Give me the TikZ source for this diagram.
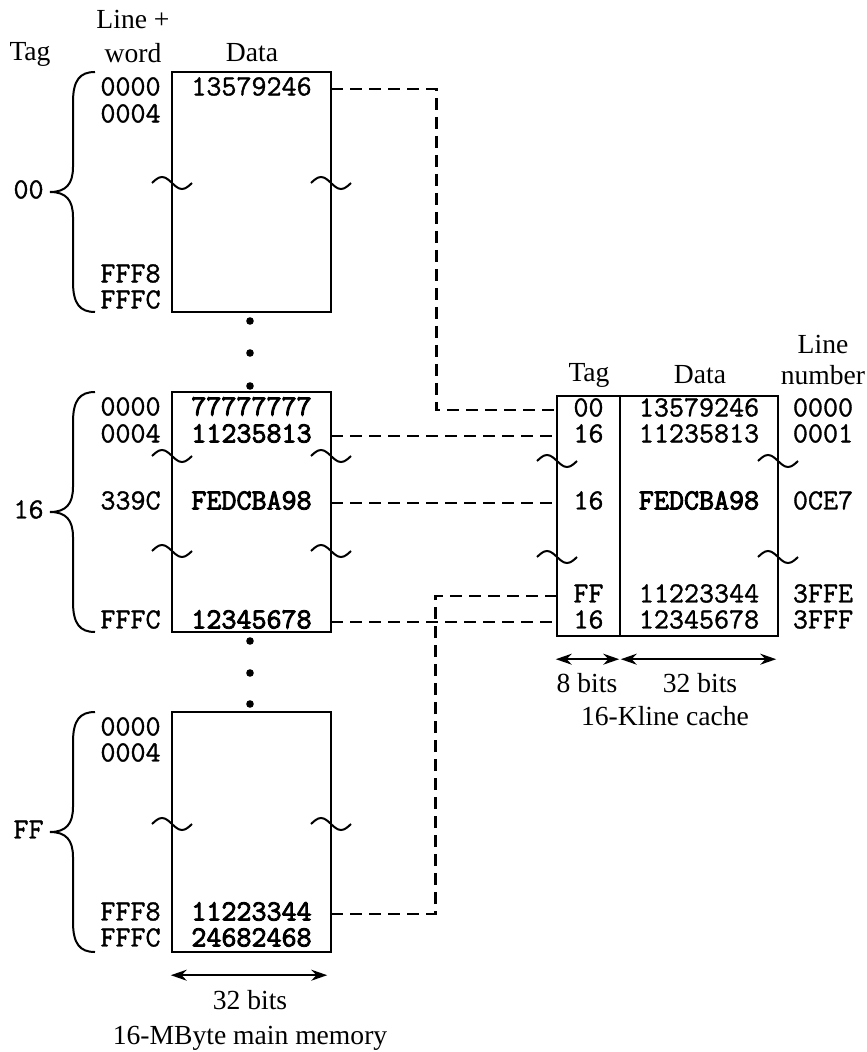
\documentclass[tikz,border=0pt]{standalone}
\usepackage{fontspec}
\setmainfont{Liberation Serif}
\newfontfamily\codefont{Latin Modern Mono}[FakeBold=1.2]
\newfontfamily\codebold{Latin Modern Mono}[FakeBold=3]
\usetikzlibrary{arrows.meta,positioning,calc}
\tikzset{
  blockbox/.style={draw, line width=1.2pt, minimum width=79.5pt, minimum height=120pt, inner sep=0pt},
  cell/.style={font=\codefont\fontsize{14.6}{16}\selectfont, minimum width=79.5pt, inner sep=0pt, text height=1.4ex, text depth=0pt},
  tagcell/.style={cell, minimum width=31.5pt},
  addr/.style={font=\codefont\fontsize{14.6}{16}\selectfont, anchor=east, inner sep=0pt, text height=1.4ex, text depth=0pt},
  hdr/.style={font=\fontsize{13.8}{16}\selectfont, inner sep=0pt},
  dashline/.style={line width=1.3pt, dash pattern=on 6pt off 3.5pt},
  dimarrow/.style={{Stealth[length=8pt,width=5.5pt]}-{Stealth[length=8pt,width=5.5pt]}, line width=0.9pt},
  brc/.style={line width=1pt},
  squig/.style={line width=1pt}
}
% squiggle across a vertical edge at (x,y)
\newcommand{\brk}[2]{\draw[squig] (#1-20,#2) sin (#1-10,#2-6) cos (#1,#2) sin (#1+10,#2+6) cos (#1+20,#2);}

\begin{document}
\begin{tikzpicture}[x=0.5pt, y=-0.5pt]
\useasboundingbox (0,0) rectangle (866,1052);

% headers
\node[hdr] (hTag) at (30,54) {Tag};
\node[hdr] (hLine) at (133,20) {Line +};
\node[hdr] (hWord) at (133,53) {word};
\node[hdr] (hData) at (252,53) {Data};

% main memory blocks
\node[blockbox] (blk0) at (251.5,192) {};
\node[blockbox] (blk1) at (251.5,512) {};
\node[blockbox] (blk2) at (251.5,832) {};

\foreach \t/\lab in {72/00,392/16,712/FF}{
  \draw[brc] (95,\t) .. controls (80,\t) and (73,\t+8) .. (73,\t+30) -- (73,\t+95)
    .. controls (73,\t+112) and (66,\t+120) .. (50,\t+120)
    .. controls (66,\t+120) and (73,\t+128) .. (73,\t+145) -- (73,\t+210)
    .. controls (73,\t+232) and (80,\t+240) .. (95,\t+240);
  \node[addr] (tag\t) at (44,\t+120) {\lab};
}

% block 00
\node[addr] (a0a) at (161,89) {0000};
\node[addr] (a0b) at (161,116) {0004};
\node[addr] (a0c) at (161,276) {FFF8};
\node[addr] (a0d) at (161,302) {FFFC};
\node[cell] (m0a) at (251.5,89) {13579246};
\brk{172}{183}
\brk{331}{183}

% block 16
\node[addr] (a1a) at (161,409) {0000};
\node[addr] (a1b) at (161,436) {0004};
\node[addr] (a1c) at (161,503) {339C};
\node[addr] (a1d) at (161,622) {FFFC};
\node[cell] (m1a) at (251.5,409) {\codebold 77777777};
\node[cell] (m1b) at (251.5,436) {\codebold 11235813};
\node[cell] (m1c) at (251.5,503) {\codebold FEDCBA98};
\node[cell] (m1d) at (251.5,622) {\codebold 12345678};
\brk{172}{456}
\brk{331}{456}
\brk{172}{551}
\brk{331}{551}

% block FF
\node[addr] (a2a) at (161,729) {0000};
\node[addr] (a2b) at (161,755) {0004};
\node[addr] (a2c) at (161,914) {FFF8};
\node[addr] (a2d) at (161,940) {FFFC};
\node[cell] (m2c) at (251.5,914) {\codebold 11223344};
\node[cell] (m2d) at (251.5,940) {\codebold 24682468};
\brk{172}{824}
\brk{331}{824}

% dots between blocks
\foreach \y in {321,353,386,641,673,704}
  \fill (250,\y) circle (1.9pt);

% cache
\node[hdr] (cTag) at (589,375) {Tag};
\node[hdr] (cData) at (700,375) {Data};
\node[hdr] (cLine) at (823,345) {Line};
\node[hdr] (cNum) at (823,375) {number};
\node[blockbox, minimum width=31.5pt] (ctag) at (588.5,516) {};
\node[blockbox, minimum width=79pt] (cdat) at (699,516) {};

\node[tagcell] (t00) at (588.5,410) {00};
\node[tagcell] (t16a) at (588.5,436) {16};
\node[tagcell] (t16b) at (588.5,503) {16};
\node[tagcell] (tFF) at (588.5,596) {FF};
\node[tagcell] (t16c) at (588.5,622) {16};
\node[cell, minimum width=79pt] (d0) at (699,410) {13579246};
\node[cell, minimum width=79pt] (d1) at (699,436) {11235813};
\node[cell, minimum width=79pt] (d2) at (699,503) {\codebold FEDCBA98};
\node[cell, minimum width=79pt] (d3) at (699,596) {11223344};
\node[cell, minimum width=79pt] (d4) at (699,622) {12345678};
\node[addr, anchor=center] (n0) at (823,410) {0000};
\node[addr, anchor=center] (n1) at (823,436) {0001};
\node[addr, anchor=center] (n2) at (823,503) {0CE7};
\node[addr, anchor=center] (n3) at (823,596) {3FFE};
\node[addr, anchor=center] (n4) at (823,622) {3FFF};
\brk{557}{461}
\brk{778}{461}
\brk{557}{557}
\brk{778}{557}

% mapping lines
\draw[dashline] (m0a.east) -- ++(105,0) |- (t00.west);
\draw[dashline] (m1b.east) -- (t16a.west);
\draw[dashline] (m1c.east) -- (t16b.west);
\draw[dashline] (m1d.east) -- (t16c.west);
\draw[dashline] (m2c.east) -- ++(104,0) |- (tFF.west);

% widths
\draw[dimarrow] ($(blk2.south west)+(0,22)$) -- ($(blk2.south east)+(-5,22)$);
\node[hdr] (w32) at (250,1000) {32 bits};
\node[hdr] (mcap) at (250,1038) {16-MByte main memory};
\draw[dimarrow] ($(ctag.south west)+(0,22)$) -- ($(ctag.south east)+(-2,22)$);
\draw[dimarrow] ($(cdat.south west)+(2,22)$) -- ($(cdat.south east)+(-3,22)$);
\node[hdr] (w8) at (587,683) {8 bits};
\node[hdr] (wc32) at (700,683) {32 bits};
\node[hdr] (ccap) at (665,716) {16-Kline cache};
\end{tikzpicture}
\end{document}
